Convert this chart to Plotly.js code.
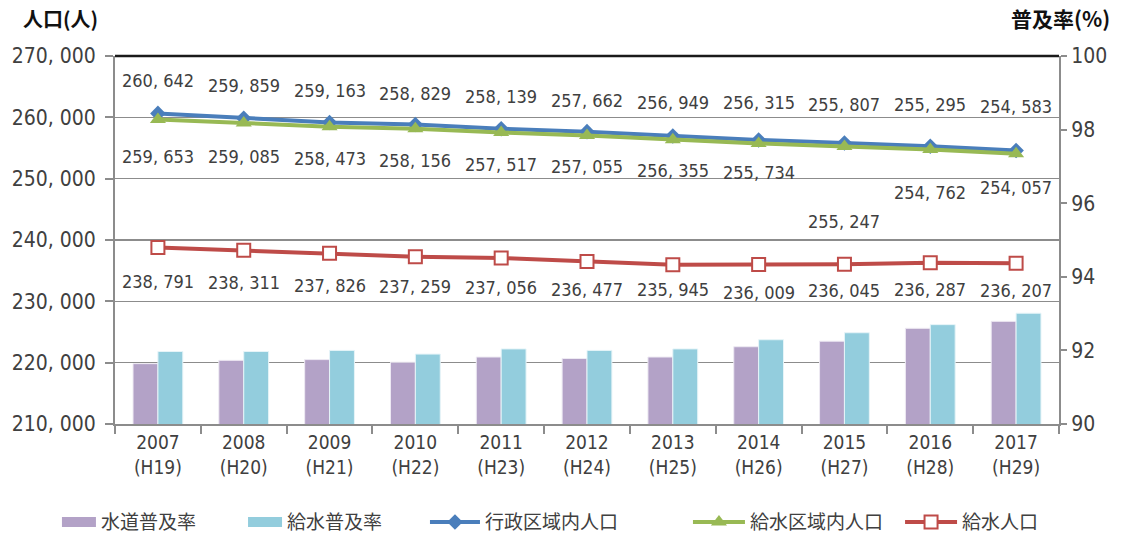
<!DOCTYPE html>
<html>
<head>
<meta charset="utf-8">
<script src="https://cdn.plot.ly/plotly-3.0.1.min.js"></script>
<style>html,body{margin:0;padding:0;background:#fff;}#chart{width:1121px;height:535px;}</style>
</head>
<body>
<div id="chart"></div>
<script>
const years = ['2007','2008','2009','2010','2011','2012','2013','2014','2015','2016','2017'];
const eras = ['(H19)','(H20)','(H21)','(H22)','(H23)','(H24)','(H25)','(H26)','(H27)','(H28)','(H29)'];
const waterworksRate = [91.64, 91.73, 91.75, 91.68, 91.82, 91.78, 91.82, 92.10, 92.25, 92.60, 92.79];
const supplyRate = [91.97, 91.97, 92.00, 91.90, 92.04, 92.00, 92.04, 92.29, 92.48, 92.70, 93.01];
const adminPop = [260642, 259859, 259163, 258829, 258139, 257662, 256949, 256315, 255807, 255295, 254583];
const areaPop = [259653, 259085, 258473, 258156, 257517, 257055, 256355, 255734, 255247, 254762, 254057];
const servedPop = [238791, 238311, 237826, 237259, 237056, 236477, 235945, 236009, 236045, 236287, 236207];
const popTicks = [210000, 220000, 230000, 240000, 250000, 260000, 270000];

// label pixel offsets (styling)
const adminShift = [33, 33, 32, 31, 32, 31, 34, 37, 39, 42, 44];
const areaShift = [-37, -34, -32, -32, -32, -31, -31, -29, -75, -43, -34];
const servedShift = [-34, -32, -32, -30, -29, -28, -25, -28, -26, -27, -27];

const fmt = v => v.toLocaleString('en-US').replace(/,/g, ', ');
const FONT = 'DejaVu Sans Condensed, Noto Sans CJK JP, sans-serif';
const LFONT = {family:'Noto Sans CJK JP', size:19, color:'#404040'};
const TXT = '#404040';
const cats = years.map((y, i) => y + '<br>' + eras[i]);
const PURPLE = '#b3a2c7', CYAN = '#93cddd';

const traces = [
  {type:'bar', name:'水道普及率', x:cats, y:waterworksRate, yaxis:'y', showlegend:false,
   marker:{color:PURPLE, line:{color:'#eeeaf3', width:1}}},
  {type:'bar', name:'給水普及率', x:cats, y:supplyRate, yaxis:'y', showlegend:false,
   marker:{color:CYAN, line:{color:'#e6f4f8', width:1}}},
  // legend swatches for the bar series (no data points)
  {type:'scatter', mode:'lines', name:'水道普及率', x:[cats[0]], y:[null], yaxis:'y', legend:'legend',
   line:{color:PURPLE, width:10}, hoverinfo:'skip'},
  {type:'scatter', mode:'lines', name:'給水普及率', x:[cats[0]], y:[null], yaxis:'y', legend:'legend2',
   line:{color:CYAN, width:10}, hoverinfo:'skip'},
  {type:'scatter', mode:'lines+markers', name:'行政区域内人口', x:cats, y:adminPop, yaxis:'y2', legend:'legend3',
   line:{color:'#4a7ebb', width:4}, marker:{symbol:'diamond', size:12, color:'#4a7ebb'}},
  {type:'scatter', mode:'lines+markers', name:'給水区域内人口', x:cats, y:areaPop, yaxis:'y2', legend:'legend4',
   line:{color:'#98b954', width:4}, marker:{symbol:'triangle-up', size:14, color:'#98b954'}},
  {type:'scatter', mode:'lines+markers', name:'給水人口', x:cats, y:servedPop, yaxis:'y2', legend:'legend5',
   line:{color:'#be4b48', width:4}, marker:{symbol:'square', size:13, color:'#ffffff', line:{color:'#be4b48', width:2}}}
];

const annotations = [];
function addLabels(vals, shifts) {
  vals.forEach((v, i) => annotations.push({
    x: cats[i], y: v, xref:'x', yref:'y2', text: fmt(v), showarrow:false,
    yshift: shifts[i], font:{family:FONT, size:18, color:TXT}
  }));
}
addLabels(adminPop, adminShift);
addLabels(areaPop, areaShift);
addLabels(servedPop, servedShift);
annotations.push({xref:'paper', yref:'paper', x:-0.1, y:1.103, xanchor:'left', yanchor:'middle',
  text:'<b>人口(人)</b>', showarrow:false, font:{family:'Noto Sans CJK JP', size:20, color:'#111'}});
annotations.push({xref:'paper', yref:'paper', x:1.056, y:1.103, xanchor:'right', yanchor:'middle',
  text:'<b>普及率(%)</b>', showarrow:false, font:{family:'Noto Sans CJK JP', size:21, color:'#111'}});

const leg = (x, w) => ({orientation:'h', xref:'container', yref:'container', x:x, xanchor:'left',
  y:0.024, yanchor:'middle', font:LFONT, itemwidth:w, bgcolor:'rgba(0,0,0,0)'});

const layout = {
  width:1121, height:535,
  margin:{l:115, r:62, t:56, b:111, autoexpand:false},
  paper_bgcolor:'#fff', plot_bgcolor:'#fff',
  font:{family:FONT, size:17, color:TXT},
  barmode:'group', bargap:0.42, bargroupgap:0,
  showlegend:true,
  legend: leg(0.0508, 34),
  legend2: leg(0.2168, 34),
  legend3: leg(0.3791, 50),
  legend4: leg(0.6137, 52),
  legend5: leg(0.8029, 52),
  xaxis:{type:'category', range:[-0.5, 10.5], showline:true, linecolor:'#8c8c8c', linewidth:2,
    ticks:'outside', tickson:'boundaries', ticklen:8, tickcolor:'#8c8c8c', tickwidth:2,
    tickfont:{family:FONT, size:19, color:TXT}, showgrid:false, automargin:false},
  yaxis:{side:'right', range:[90,100], tickvals:[90,92,94,96,98,100], ticks:'outside', ticklen:6,
    tickcolor:'#8c8c8c', tickwidth:2, showline:true, linecolor:'#8c8c8c', linewidth:2,
    showgrid:false, zeroline:false, tickfont:{family:FONT, size:21, color:TXT}, automargin:false},
  yaxis2:{side:'left', overlaying:'y', range:[210000,270000], tickvals:popTicks,
    ticktext:popTicks.map(fmt), ticks:'outside', ticklen:8, tickcolor:'#8c8c8c', tickwidth:2,
    ticklabelstandoff:5,
    showline:true, linecolor:'#8c8c8c', linewidth:2, showgrid:true, gridcolor:'#8c8c8c', gridwidth:1.5,
    zeroline:false, tickfont:{family:FONT, size:21, color:TXT}, automargin:false},
  shapes:[{type:'line', xref:'paper', yref:'paper', x0:0, x1:1, y0:1, y1:1, line:{color:'#1a1a1a', width:2.5}}],
  annotations: annotations
};

Plotly.newPlot('chart', traces, layout, {displayModeBar:false, staticPlot:true});
</script>
</body>
</html>
